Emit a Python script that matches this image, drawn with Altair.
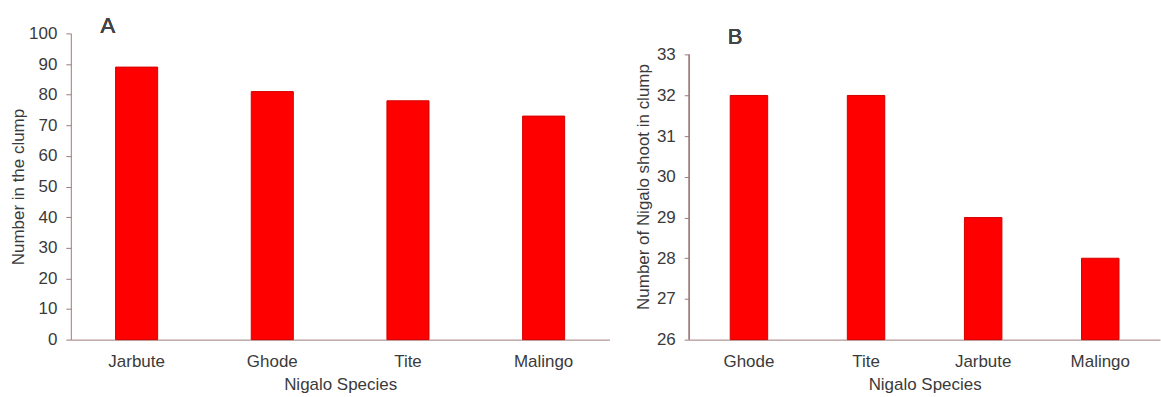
import altair as alt
import pandas as pd

species_a = ["Jarbute", "Ghode", "Tite", "Malingo"]
values_a = [89, 81, 78, 73]
species_b = ["Ghode", "Tite", "Jarbute", "Malingo"]
values_b = [32, 32, 29, 28]
ticks_a = [0, 10, 20, 30, 40, 50, 60, 70, 80, 90, 100]
ticks_b = [26, 27, 28, 29, 30, 31, 32, 33]

df_a = pd.DataFrame({"species": species_a, "value": values_a})
df_b = pd.DataFrame({"species": species_b, "value": values_b})

FONT = "Liberation Sans"
AX = "#a07a7a"
TXT = "#3a3a3a"
RED = "#ff0000"
FS = 17
H = 307

def x_axis():
    return alt.Axis(title="Nigalo Species", labelAngle=0, ticks=False,
                    labelPadding=14, titlePadding=7, domainColor=AX,
                    labelFontSize=FS, titleFontSize=FS, labelColor=TXT,
                    titleColor=TXT, titleFontWeight="normal", labelFont=FONT,
                    titleFont=FONT, grid=False)

def y_axis(title, values, pad, show_domain=True):
    return alt.Axis(title=title, values=values, tickSize=5, tickColor=AX,
                    domain=show_domain, domainColor=AX, labelPadding=9,
                    titlePadding=pad, grid=False, labelFontSize=FS,
                    titleFontSize=FS, labelColor=TXT, titleColor=TXT,
                    titleFontWeight="normal", labelFont=FONT, titleFont=FONT)

bars_a = alt.Chart(df_a).mark_bar(color=RED, stroke="#d40000", strokeWidth=1).encode(
    x=alt.X("species:N", sort=species_a,
            scale=alt.Scale(paddingInner=0.69, paddingOuter=0.33), axis=x_axis()),
    y=alt.Y("value:Q", scale=alt.Scale(domain=[0, 100], nice=False),
            axis=y_axis("Number in the clump", ticks_a, 1)),
)
letter_a = alt.Chart(df_a).mark_text(text="A", fontSize=22, font=FONT,
                                     fontWeight="normal", color="#444444").encode(
    x=alt.value(37), y=alt.value(-7))
panel_a = alt.layer(bars_a, letter_a).properties(width=540, height=H)

top_b = 26 + H / 40.8
bars_b = alt.Chart(df_b).mark_bar(color=RED, stroke="#d40000", strokeWidth=1).encode(
    x=alt.X("species:N", sort=species_b,
            scale=alt.Scale(paddingInner=0.68, paddingOuter=0.35), axis=x_axis()),
    y=alt.Y("value:Q", scale=alt.Scale(domain=[26, top_b], nice=False, zero=False),
            axis=y_axis("Number of Nigalo shoot in clump", ticks_b, 4, False)),
    y2=alt.datum(ticks_b[0]),
)
axis_line_b = alt.Chart(df_b).mark_rule(color=AX, strokeWidth=1).encode(
    x=alt.value(0), y=alt.datum(ticks_b[0]), y2=alt.datum(ticks_b[-1]))
letter_b = alt.Chart(df_b).mark_text(text="B", fontSize=22, font=FONT,
                                     fontWeight="normal", color="#444444").encode(
    x=alt.value(46), y=alt.value(4))
panel_b = alt.layer(bars_b, axis_line_b, letter_b).properties(width=472, height=H)

chart = alt.hconcat(panel_a, panel_b, spacing=80, bounds="flush").properties(
    padding={"left": 9, "top": 14, "right": 0, "bottom": 0},
    background="white",
).configure_view(stroke="transparent")

chart.save("out.html", embed_options={"renderer": "svg", "actions": False})
